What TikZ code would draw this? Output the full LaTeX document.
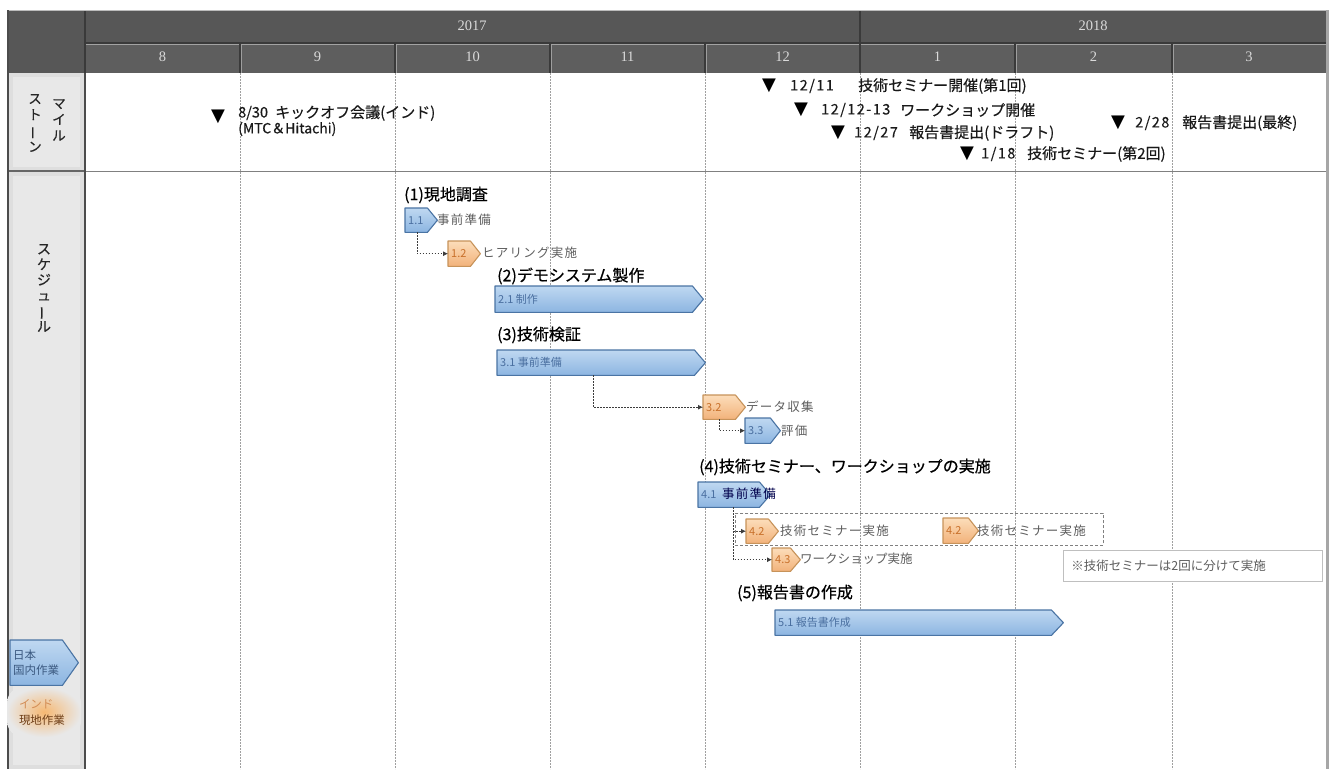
\documentclass[tikz,border=0pt]{standalone}
\usepackage{fontspec}
\usepackage{graphicx}
\setmainfont{Noto Sans CJK JP}
\newfontfamily\hdrfont{Liberation Serif}
\newfontfamily\symfont{DejaVu Sans}
\newfontfamily\descfont[LetterSpace=10]{Noto Sans CJK JP}
\newfontfamily\datefont[LetterSpace=10,FakeBold=0.3]{Noto Sans CJK JP}
\newfontfamily\msfont[FakeBold=0.3]{Noto Sans CJK JP}
\newfontfamily\titlefont[FakeBold=0.5]{Noto Sans CJK JP}
\usetikzlibrary{arrows.meta}
\definecolor{hdrA}{HTML}{575757}
\definecolor{hdrB}{HTML}{5E5E5E}
\definecolor{hdrLine}{HTML}{3A3A3A}
\definecolor{hdrTxt}{HTML}{DADADA}
\definecolor{lcol}{HTML}{DEDEDE}
\definecolor{lcolIn}{HTML}{E8E8E8}
\definecolor{gridc}{HTML}{A0A0A0}
\definecolor{blueTop}{HTML}{BFD8F1}
\definecolor{blueBot}{HTML}{8CB5E1}
\definecolor{blueDraw}{HTML}{4A74A4}
\definecolor{blueLab}{HTML}{4A6FA0}
\definecolor{oraTop}{HTML}{FCDDBA}
\definecolor{oraBot}{HTML}{F2B27A}
\definecolor{oraDraw}{HTML}{C7935A}
\definecolor{oraLab}{HTML}{C8702A}
\definecolor{oraGlow}{HTML}{F6B872}
\definecolor{descc}{HTML}{5E5E5E}
\definecolor{connc}{HTML}{3C3C3C}
\newcommand\mktask[8]{%
  \node[anchor=north west, inner sep=0pt, minimum width={(#4)-(#2)}, minimum height={(#5)-(#3)}] (#1) at (#2,#3) {};
  \path[#6shape] (#1.north west) -- ([xshift=-#7pt]#1.north east) -- (#1.east) -- ([xshift=-#7pt]#1.south east) -- (#1.south west) -- cycle;
  \node[#6lab] (#1l) at ([xshift=3pt]#1.west) {#8};
}
\begin{document}
\begin{tikzpicture}[x=1pt,y=-1pt,
  blueshape/.style={top color=blueTop, bottom color=blueBot, draw=blueDraw, line width=1.1pt, line join=round},
  orangeshape/.style={top color=oraTop, bottom color=oraBot, draw=oraDraw, line width=1.1pt, line join=round},
  bluelab/.style={anchor=west, inner sep=0pt, font=\fontsize{11}{12}\selectfont, text=blueLab},
  orangelab/.style={anchor=west, inner sep=0pt, font=\fontsize{11}{12}\selectfont, text=oraLab},
  hdrtxt/.style={inner sep=0pt, font=\hdrfont\fontsize{14.5}{16}\selectfont, text=hdrTxt},
  grid/.style={draw=gridc, line width=0.8pt, dash pattern=on 2pt off 1pt},
  tri/.style={inner sep=0pt, font=\symfont\fontsize{18}{18}\selectfont},
  msdate/.style={anchor=west, inner sep=0pt, font=\datefont\fontsize{14.5}{17}\selectfont, text=black!90},
  mstext/.style={anchor=west, inner sep=0pt, font=\msfont\fontsize{15}{17}\selectfont, text=black!90},
  title/.style={anchor=west, inner sep=0pt, font=\titlefont\fontsize{16}{18}\selectfont, text=black},
  desc/.style={anchor=west, inner sep=0pt, font=\descfont\fontsize{12.5}{14}\selectfont, text=descc},
  conn/.style={draw=connc, line width=0.8pt, dash pattern=on 1.5pt off 1.5pt, -{Latex[length=5pt,width=5pt]}},
  vlab/.style={inner sep=0pt, align=center, font=\msfont\fontsize{13.5}{16}\selectfont, text=black!85}
]
\useasboundingbox (0,0) rectangle (1330,769);
\fill[white] (0,0) rectangle (1330,769);

% header
\fill[hdrA] (8,10) rectangle (1326,43);
\fill[hdrB] (85,43) rectangle (1326,73);
\fill[hdrA] (8,43) rectangle (85,73);
\draw[hdrLine, line width=1.4pt] (85,43) -- (1326,43);
\draw[white!45!hdrA, line width=0.6pt] (85,44.5) -- (1326,44.5);
\draw[hdrLine, line width=1.4pt] (85,10) -- (85,73);
\draw[hdrLine, line width=1.4pt] (860,10) -- (860,73);
\foreach \x in {240,395,550,705,1015,1172}{
  \draw[hdrLine, line width=1.2pt] (\x,43) -- (\x,73);
  \draw[white!40!hdrB, line width=0.6pt] (\x+1.3,45) -- (\x+1.3,73);
}
\draw[white!60!hdrA, line width=0.8pt] (8,10.4) -- (1326,10.4);

\node[hdrtxt] (y17) at (472,26) {2017};
\node[hdrtxt] (y18) at (1093,26) {2018};
\node[hdrtxt] (mo8) at (162.5,57) {8};
\node[hdrtxt] (mo9) at (317.5,57) {9};
\node[hdrtxt] (mo10) at (472.5,57) {10};
\node[hdrtxt] (mo11) at (627.5,57) {11};
\node[hdrtxt] (mo12) at (782.5,57) {12};
\node[hdrtxt] (mo1) at (937.5,57) {1};
\node[hdrtxt] (mo2) at (1093.5,57) {2};
\node[hdrtxt] (mo3) at (1249,57) {3};

% left label column
\fill[lcol] (8,73) rectangle (85,769);
\fill[lcolIn] (13,77) rectangle (80,167);
\fill[lcolIn] (13,176) rectangle (80,765);

% grid
\foreach \x in {240,395,550,705,860,1015,1172}{
  \draw[grid] (\x,73) -- (\x,769);
}
\draw[gridc!80!black, line width=0.9pt] (85,171) -- (1326,171);
\draw[black!60, line width=1.2pt] (8,171) -- (85,171);
\draw[black!70, line width=1.6pt] (8,10) -- (8,769);
\draw[black!70, line width=1.6pt] (85,73) -- (85,769);
\draw[black!35, line width=3pt] (1327.5,10) -- (1327.5,769);

% vertical labels
\node[vlab] (lblMa) at (59,120) {マ\\イ\\ル};
\node[vlab] (lblSu) at (35,123) {ス\\ト\\\rotatebox[origin=c]{90}{ー}\\ン};
\node[vlab, font=\msfont\fontsize{14}{15.5}\selectfont] (lblSch) at (44,288) {ス\\ケ\\ジ\\ュ\\\rotatebox[origin=c]{90}{ー}\\ル};

% milestones
\node[tri] (t1) at (218,117) {▼};
\node[msdate, font=\msfont\fontsize{14.5}{17}\selectfont] (d1) at (238,113) {8/30};
\node[mstext] (m1) at (275,113) {キックオフ会議(インド)};
\node[msdate, font=\msfont\fontsize{14}{15}\selectfont] (m1b) at (238,129) {(MTC＆Hitachi)};

\node[tri] (t2) at (769,86) {▼};
\node[msdate] (d2) at (790,86) {12/11};
\node[mstext] (m2) at (858,86) {技術セミナー開催(第1回)};

\node[tri] (t3) at (801,110) {▼};
\node[msdate] (d3) at (821,110) {12/12-13};
\node[mstext] (m3) at (900,110) {ワークショップ開催};

\node[tri] (t4) at (838,133) {▼};
\node[msdate] (d4) at (854,133) {12/27};
\node[mstext] (m4) at (909,133) {報告書提出(ドラフト)};

\node[tri] (t5) at (1118,123) {▼};
\node[msdate] (d5) at (1135,123) {2/28};
\node[mstext] (m5) at (1182,123) {報告書提出(最終)};

\node[tri] (t6) at (967,154) {▼};
\node[msdate] (d6) at (981,154) {1/18};
\node[mstext] (m6) at (1027,154) {技術セミナー(第2回)};

% titles
\node[title] (h1) at (404,195) {(1)現地調査};
\node[title] (h2) at (497,276) {(2)デモシステム製作};
\node[title] (h3) at (497,335) {(3)技術検証};
\node[title] (h4) at (699,467) {(4)技術セミナー、ワークショップの実施};
\node[title] (h5) at (737,593) {(5)報告書の作成};

% descriptions
\node[desc] (e11) at (437,220) {事前準備};
\node[desc] (e12) at (482,253) {ヒアリング実施};
\node[desc] (e32) at (746,407) {データ収集};
\node[desc] (e33) at (781,431) {評価};
\node[desc] (e42a) at (780,531) {技術セミナー実施};
\node[desc] (e42b) at (977,531) {技術セミナー実施};
\node[desc, font=\fontsize{12.5}{14}\selectfont] (e43) at (800,559) {ワークショップ実施};

% group frame
\node[anchor=north west, inner sep=0pt, minimum width=368pt, minimum height=32pt, draw=black!50, line width=0.9pt, dash pattern=on 3pt off 2pt] (grp) at (735,513) {};

% task boxes
\mktask{b11}{405}{208}{437}{232}{blue}{10}{1.1}
\mktask{b12}{448}{241}{480}{266}{orange}{10}{1.2}
\mktask{b21}{495}{286}{703}{312}{blue}{11}{2.1 制作}
\mktask{b31}{497}{350}{705}{375}{blue}{11}{3.1 事前準備}
\mktask{b32}{703}{395}{745}{419}{orange}{10}{3.2}
\mktask{b33}{745}{418}{780}{443}{blue}{10}{3.3}
\mktask{b41}{698}{482}{770}{507}{blue}{11}{4.1}
\mktask{b42a}{746}{519}{778}{543}{orange}{10}{4.2}
\mktask{b42b}{943}{518}{978}{543}{orange}{10}{4.2}
\mktask{b43}{772}{548}{800}{571}{orange}{10}{4.3}
\mktask{b51}{775}{610}{1063}{635}{blue}{12}{5.1 報告書作成}
\node[desc, text=black!70!blue] (e41) at (722,494) {事前準備};

% connectors
\draw[conn] ([xshift=12pt]b11.south west) |- (b12.west);
\draw[conn] ([xshift=96pt]b31.south west) |- (b32.west);
\draw[conn] ([xshift=16pt]b32.south west) |- (b33.west);
\draw[conn] ([xshift=35pt]b41.south west) |- (b42a.west);
\draw[conn] ([xshift=35pt]b41.south west) |- (b43.west);

% note
\node[anchor=north west, draw=black!25, fill=white, line width=0.9pt, minimum width=259pt, minimum height=31pt, text width=243pt, inner xsep=8pt, align=left, font=\fontsize{12.5}{14}\selectfont, text=descc] (note) at (1063,550) {※技術セミナーは2回に分けて実施};

% legend
\node[anchor=north west, inner sep=0pt, minimum width=68pt, minimum height=45pt] (lgJ) at (10,640) {};
\path[blueshape] (lgJ.north west) -- ([xshift=-16pt]lgJ.north east) -- (lgJ.east) -- ([xshift=-16pt]lgJ.south east) -- (lgJ.south west) -- cycle;
\node[anchor=west, inner sep=0pt, align=left, font=\fontsize{11.5}{15}\selectfont, text=blueLab!80!black] (lgJt) at ([xshift=3pt]lgJ.west) {日本\\国内作業};
\node[rounded corners=16pt, inner color=oraGlow, outer color=lcolIn, minimum width=74pt, minimum height=50pt, inner sep=0pt] (lgI) at (44,712) {};
\node[inner sep=0pt, align=left, font=\fontsize{11.5}{16}\selectfont, text=oraLab!55!black] (lgIt) at (42,712) {\textcolor{oraLab!80}{インド}\\現地作業};
\end{tikzpicture}
\end{document}
